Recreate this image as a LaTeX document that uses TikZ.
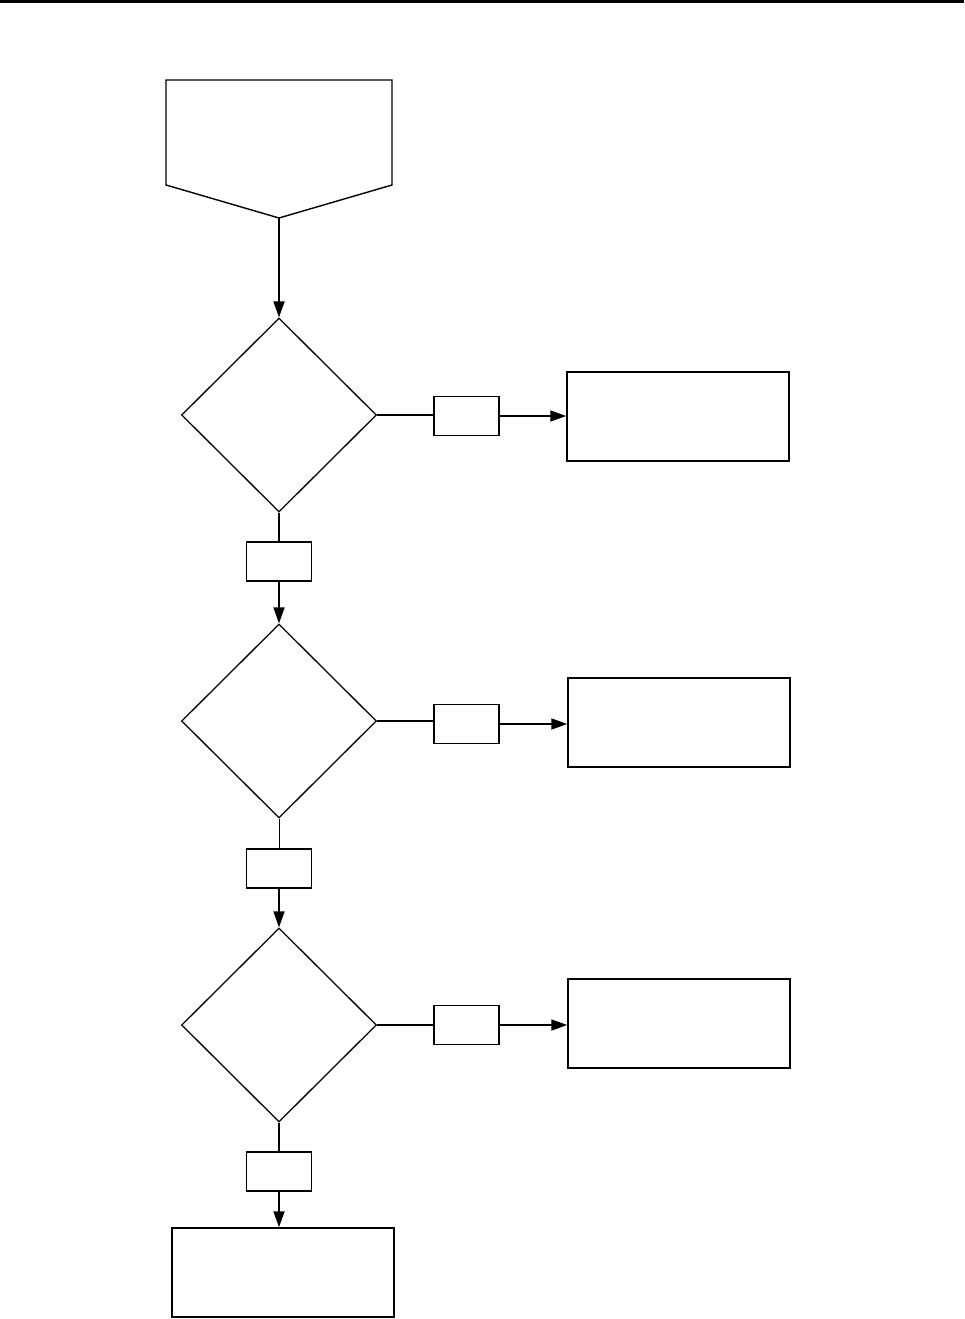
\documentclass[tikz,border=0pt]{standalone}
\usetikzlibrary{shapes.geometric,arrows.meta}
\tikzset{
  box/.style={draw,line width=1.5pt,rectangle,inner sep=0pt},
  bigbox/.style={box,minimum width=222pt,minimum height=89pt},
  tag/.style={box,minimum width=65pt,minimum height=39pt},
  dec/.style={draw,line width=1.3pt,diamond,inner sep=0pt,minimum width=195pt,minimum height=194pt},
  conn/.style={line width=1.8pt},
  arr/.style={line width=1.8pt,-{Triangle[length=16pt,width=11pt]}}
}
\begin{document}
\begin{tikzpicture}[x=1pt,y=-1pt]
\useasboundingbox (0,0) rectangle (964,1319);
\draw[line width=2.4pt] (0,1.5) -- (964,1.5);
% start pentagon
\draw[line width=1.4pt] (166,80) -- (392,80) -- (392,185) -- (279,218) -- (166,185) -- cycle;
\coordinate (start) at (279,218);
% decisions
\node[dec] (d1) at (279,415) {};
\node[dec] (d2) at (279,721) {};
\node[dec] (d3) at (279,1025) {};
% right tags
\node[tag] (r1) at (466.5,416) {};
\node[tag] (r2) at (466.5,724) {};
\node[tag] (r3) at (466.5,1025) {};
% bottom tags
\node[tag] (b1) at (279,561.5) {};
\node[tag] (b2) at (279,868.5) {};
\node[tag] (b3) at (279,1171.5) {};
% result boxes
\node[bigbox] (o1) at (678,416.5) {};
\node[bigbox] (o2) at (679,722.5) {};
\node[bigbox] (o3) at (679,1023.5) {};
\node[bigbox] (end) at (283,1272.5) {};
% connectors
\draw[arr] (start) -- (d1.north);
\draw[conn] (d1.east) -- (r1.west |- d1.east);
\draw[arr] (r1.east) -- (r1.east -| o1.west);
\draw[conn] (d1.south) -- (b1.north);
\draw[arr] (b1.south) -- (d2.north);
\draw[conn] (d2.east) -- (r2.west |- d2.east);
\draw[arr] (r2.east) -- (r2.east -| o2.west);
\draw[line width=0.8pt] (d2.south) -- (b2.north);
\draw[arr] (b2.south) -- (d3.north);
\draw[conn] (d3.east) -- (r3.west |- d3.east);
\draw[arr] (r3.east) -- (r3.east -| o3.west);
\draw[conn] (d3.south) -- (b3.north);
\draw[arr] (b3.south) -- (b3.south |- end.north);
\end{tikzpicture}
\end{document}
